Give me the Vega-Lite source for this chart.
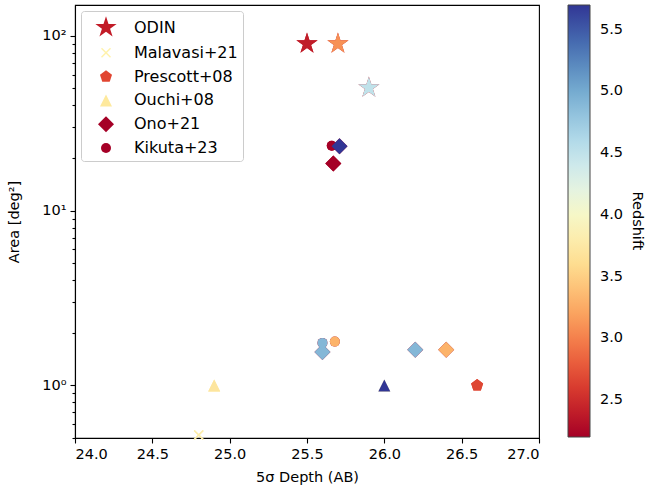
{
  "$schema": "https://vega.github.io/schema/vega-lite/v6.json",
  "width": 464,
  "height": 433,
  "autosize": {"type": "none"},
  "padding": {"left": 75, "top": 5, "right": 108, "bottom": 53},
  "background": "white",
  "config": {
    "font": "DejaVu Sans",
    "view": {"stroke": "black", "strokeWidth": 1.1},
    "axis": {"domainColor": "black", "domainWidth": 1.1, "tickColor": "black", "tickWidth": 1.1, "labelColor": "black", "titleColor": "black", "labelFontSize": 14.5, "titleFontSize": 14.5, "titleFontWeight": "normal", "grid": false},
    "legend": {"labelFontSize": 14.5, "labelColor": "black", "titleFontWeight": "normal"}
  },
  "data": {
    "values": [
      {"survey": "ODIN", "depth": 25.5, "area": 90, "z": 2.4},
      {"survey": "ODIN", "depth": 25.7, "area": 90, "z": 3.1},
      {"survey": "ODIN", "depth": 25.9, "area": 50.5, "z": 4.5},
      {"survey": "Malavasi+21", "depth": 24.8, "area": 0.52, "z": 3.8},
      {"survey": "Prescott+08", "depth": 26.6, "area": 1.0, "z": 2.67},
      {"survey": "Ouchi+08", "depth": 24.9, "area": 1.0, "z": 3.7},
      {"survey": "Ouchi+08", "depth": 26.0, "area": 1.0, "z": 5.7},
      {"survey": "Ono+21", "depth": 25.67, "area": 18.6, "z": 2.2},
      {"survey": "Ono+21", "depth": 25.6, "area": 1.55, "z": 4.9},
      {"survey": "Ono+21", "depth": 26.2, "area": 1.6, "z": 4.9},
      {"survey": "Ono+21", "depth": 26.4, "area": 1.6, "z": 3.3},
      {"survey": "Kikuta+23", "depth": 25.66, "area": 23.5, "z": 2.2},
      {"survey": "Ono+21", "depth": 25.71, "area": 23.3, "z": 5.7},
      {"survey": "Kikuta+23", "depth": 25.6, "area": 1.75, "z": 4.9},
      {"survey": "Kikuta+23", "depth": 25.68, "area": 1.78, "z": 3.3}
    ]
  },
  "encoding": {
    "x": {
      "field": "depth", "type": "quantitative",
      "scale": {"domain": [24, 27], "nice": false, "zero": false},
      "axis": {"title": "5σ Depth (AB)", "values": [24, 24.5, 25, 25.5, 26, 26.5, 27], "format": ".1f", "tickSize": 5, "labelPadding": 4, "titlePadding": 10}
    },
    "y": {
      "field": "area", "type": "quantitative",
      "scale": {"type": "log", "domain": [0.5, 150], "nice": false},
      "axis": {
        "title": "Area [deg²]",
        "values": [0.5, 0.6, 0.7, 0.8, 0.9, 1, 2, 3, 4, 5, 6, 7, 8, 9, 10, 20, 30, 40, 50, 60, 70, 80, 90, 100],
        "labelExpr": "datum.value == 1 ? '10⁰' : datum.value == 10 ? '10¹' : datum.value == 100 ? '10²' : ''",
        "tickSize": {"condition": {"test": "datum.value == 1 || datum.value == 10 || datum.value == 100", "value": 5}, "value": 3},
        "labelPadding": 4,
        "titlePadding": 20
      }
    },
    "shape": {
      "field": "survey", "type": "nominal",
      "scale": {
        "domain": ["ODIN", "Malavasi+21", "Prescott+08", "Ouchi+08", "Ono+21", "Kikuta+23"],
        "range": [
          "M0,-1L0.2245,-0.309L0.951,-0.309L0.363,0.118L0.588,0.809L0,0.382L-0.588,0.809L-0.363,0.118L-0.951,-0.309L-0.2245,-0.309Z",
          "M-1,-0.8L-0.8,-1L0,-0.2L0.8,-1L1,-0.8L0.2,0L1,0.8L0.8,1L0,0.2L-0.8,1L-1,0.8L-0.2,0Z",
          "M0,-1L0.951,-0.309L0.588,0.809L-0.588,0.809L-0.951,-0.309Z",
          "M0,-1L1,1L-1,1Z",
          "M0,-1L1,0L0,1L-1,0Z",
          "circle"
        ]
      },
      "legend": {
        "orient": "top-left", "offset": 6, "title": null,
        "labelFontSize": 16, "symbolSize": 289, "rowPadding": 7.8,
        "padding": 5, "symbolOffset": 8.5, "labelOffset": 16.5,
        "fillColor": "white", "strokeColor": "#cccccc", "cornerRadius": 3,
        "symbolStrokeWidth": 0, "symbolOpacity": 1
      }
    },
    "size": {
      "field": "survey", "type": "nominal",
      "scale": {"type": "ordinal", "domain": ["ODIN", "Malavasi+21", "Prescott+08", "Ouchi+08", "Ono+21", "Kikuta+23"], "range": [500, 100, 160, 144, 256, 100]}
    }
  },
  "layer": [
    {
      "mark": {"type": "point", "filled": true, "opacity": 1, "strokeWidth": 0},
      "encoding": {
        "fill": {
          "field": "survey", "type": "nominal",
          "scale": {"domain": ["ODIN", "Malavasi+21", "Prescott+08", "Ouchi+08", "Ono+21", "Kikuta+23"], "range": ["#c21b27", "#fff2ab", "#e14531", "#fee99d", "#a50026", "#a50026"]}
        }
      }
    },
    {
      "mark": {"type": "point", "filled": true, "opacity": 1, "strokeWidth": 0},
      "encoding": {
        "color": {
          "field": "z", "type": "quantitative",
          "scale": {"scheme": "redyellowblue", "domain": [2.2, 5.7]},
          "legend": {
            "orient": "right", "offset": 29, "title": "Redshift", "titleOrient": "right", "titleAngle": 270,
            "titleFontSize": 14.5, "titleColor": "black", "titlePadding": 7, "titleAnchor": "middle",
            "direction": "vertical", "gradientLength": 432, "gradientThickness": 22,
            "gradientStrokeColor": "#444", "gradientStrokeWidth": 1,
            "values": [2.5, 3, 3.5, 4, 4.5, 5, 5.5], "format": ".1f", "labelOffset": 10
          }
        }
      }
    }
  ]
}
